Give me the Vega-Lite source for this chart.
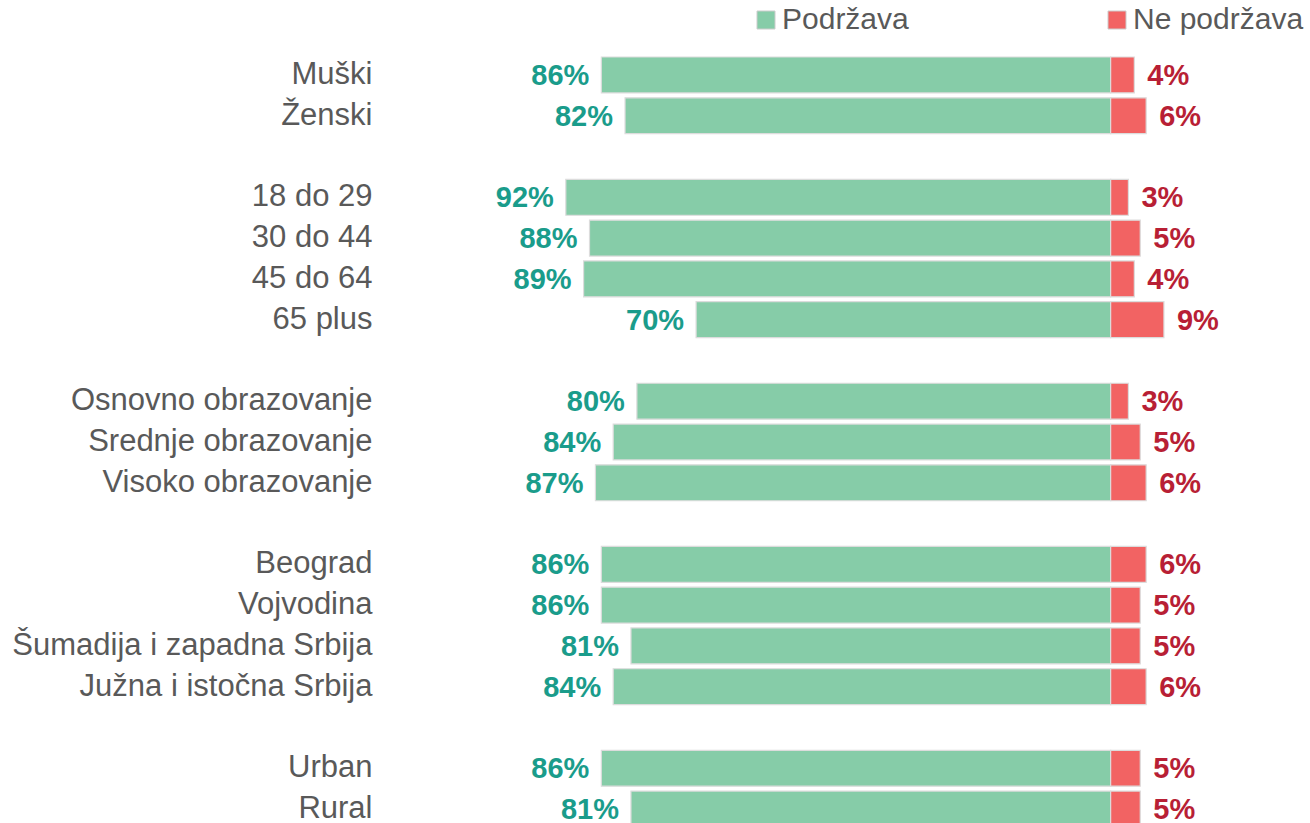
{
  "$schema": "https://vega.github.io/schema/vega-lite/v6.json",
  "width": 912,
  "height": 770,
  "autosize": {"type": "none"},
  "padding": {"left": 400, "top": 57, "right": 0, "bottom": 0},
  "background": "white",
  "config": {
    "view": {"stroke": null},
    "font": "Liberation Sans"
  },
  "data": {
    "values": [
      {"grupa": "Muški", "stav": "Podržava", "procenat": 86},
      {"grupa": "Muški", "stav": "Ne podržava", "procenat": 4},
      {"grupa": "Ženski", "stav": "Podržava", "procenat": 82},
      {"grupa": "Ženski", "stav": "Ne podržava", "procenat": 6},
      {"grupa": "18 do 29", "stav": "Podržava", "procenat": 92},
      {"grupa": "18 do 29", "stav": "Ne podržava", "procenat": 3},
      {"grupa": "30 do 44", "stav": "Podržava", "procenat": 88},
      {"grupa": "30 do 44", "stav": "Ne podržava", "procenat": 5},
      {"grupa": "45 do 64", "stav": "Podržava", "procenat": 89},
      {"grupa": "45 do 64", "stav": "Ne podržava", "procenat": 4},
      {"grupa": "65 plus", "stav": "Podržava", "procenat": 70},
      {"grupa": "65 plus", "stav": "Ne podržava", "procenat": 9},
      {"grupa": "Osnovno obrazovanje", "stav": "Podržava", "procenat": 80},
      {"grupa": "Osnovno obrazovanje", "stav": "Ne podržava", "procenat": 3},
      {"grupa": "Srednje obrazovanje", "stav": "Podržava", "procenat": 84},
      {"grupa": "Srednje obrazovanje", "stav": "Ne podržava", "procenat": 5},
      {"grupa": "Visoko obrazovanje", "stav": "Podržava", "procenat": 87},
      {"grupa": "Visoko obrazovanje", "stav": "Ne podržava", "procenat": 6},
      {"grupa": "Beograd", "stav": "Podržava", "procenat": 86},
      {"grupa": "Beograd", "stav": "Ne podržava", "procenat": 6},
      {"grupa": "Vojvodina", "stav": "Podržava", "procenat": 86},
      {"grupa": "Vojvodina", "stav": "Ne podržava", "procenat": 5},
      {"grupa": "Šumadija i zapadna Srbija", "stav": "Podržava", "procenat": 81},
      {"grupa": "Šumadija i zapadna Srbija", "stav": "Ne podržava", "procenat": 5},
      {"grupa": "Južna i istočna Srbija", "stav": "Podržava", "procenat": 84},
      {"grupa": "Južna i istočna Srbija", "stav": "Ne podržava", "procenat": 6},
      {"grupa": "Urban", "stav": "Podržava", "procenat": 86},
      {"grupa": "Urban", "stav": "Ne podržava", "procenat": 5},
      {"grupa": "Rural", "stav": "Podržava", "procenat": 81},
      {"grupa": "Rural", "stav": "Ne podržava", "procenat": 5}
    ]
  },
  "transform": [
    {"calculate": "datum.stav === 'Podržava' ? -datum.procenat : datum.procenat", "as": "x"},
    {"calculate": "datum.procenat + '%'", "as": "oznaka"}
  ],
  "encoding": {
    "y": {
      "field": "grupa",
      "type": "nominal",
      "sort": null,
      "scale": {
        "domain": ["Muški", "Ženski", " ", "18 do 29", "30 do 44", "45 do 64", "65 plus", "  ", "Osnovno obrazovanje", "Srednje obrazovanje", "Visoko obrazovanje", "   ", "Beograd", "Vojvodina", "Šumadija i zapadna Srbija", "Južna i istočna Srbija", "    ", "Urban", "Rural"],
        "paddingInner": 0.12,
        "paddingOuter": 0
      },
      "axis": {
        "title": null,
        "ticks": false,
        "domain": false,
        "labelPadding": 28,
        "labelFontSize": 31,
        "labelColor": "#595959",
        "labelFont": "Liberation Sans",
        "labelLimit": 500
      }
    }
  },
  "layer": [
    {
      "mark": {"type": "bar", "stroke": "#dcdcdc", "strokeWidth": 1.2},
      "encoding": {
        "x": {
          "field": "x",
          "type": "quantitative",
          "scale": {"domain": [-120, 34], "nice": false, "zero": false},
          "axis": null
        },
        "x2": {"datum": 0},
        "color": {
          "field": "stav",
          "type": "nominal",
          "scale": {"domain": ["Podržava", "Ne podržava"], "range": ["#86cca8", "#f26363"]},
          "legend": {
            "title": null,
            "orient": "none",
            "direction": "horizontal",
            "legendX": 351,
            "legendY": -52,
            "symbolType": "square",
            "symbolSize": 324,
            "symbolStrokeColor": "#cccccc",
            "symbolStrokeWidth": 1,
            "labelFontSize": 30,
            "labelFont": "Liberation Sans",
            "labelColor": "#595959",
            "labelOffset": 1,
            "columnPadding": 193,
            "labelLimit": 400
          }
        }
      }
    },
    {
      "transform": [{"filter": "datum.stav === 'Podržava'"}],
      "mark": {"type": "text", "align": "right", "baseline": "middle", "dx": -12, "dy": 1, "fontSize": 29, "fontWeight": "bold", "font": "Liberation Sans", "color": "#1a9c8b"},
      "encoding": {
        "x": {"field": "x", "type": "quantitative"},
        "text": {"field": "oznaka", "type": "nominal"}
      }
    },
    {
      "transform": [{"filter": "datum.stav === 'Ne podržava'"}],
      "mark": {"type": "text", "align": "left", "baseline": "middle", "dx": 13, "dy": 1, "fontSize": 29, "fontWeight": "bold", "font": "Liberation Sans", "color": "#b81f35"},
      "encoding": {
        "x": {"field": "x", "type": "quantitative"},
        "text": {"field": "oznaka", "type": "nominal"}
      }
    }
  ]
}
